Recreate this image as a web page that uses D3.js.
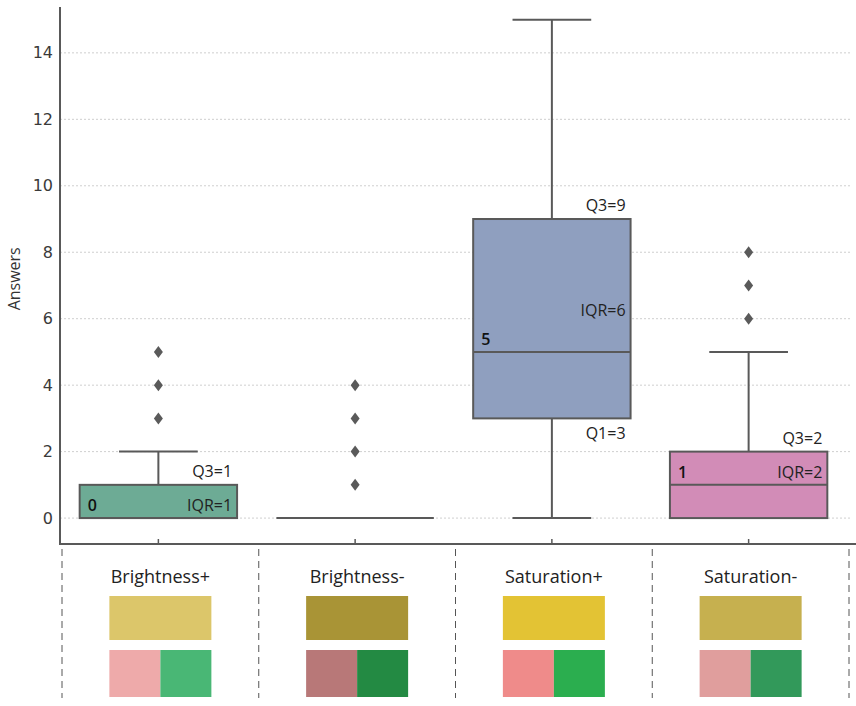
<!DOCTYPE html>
<html>
<head>
<meta charset="utf-8">
<script src="https://cdn.jsdelivr.net/npm/d3@7"></script>
<style>
  body { margin: 0; background: #fff; }
  text { font-family: "Open Sans", "Noto Sans", sans-serif; }
</style>
</head>
<body>
<div id="chart"></div>
<script>
const categories = ["Brightness+", "Brightness-", "Saturation+", "Saturation-"];
const q1 = [0, 0, 3, 0];
const median = [0, 0, 5, 1];
const q3 = [1, 0, 9, 2];
const whiskerLow = [0, 0, 0, 0];
const whiskerHigh = [2, 0, 15, 5];
const outliers = [[3, 4, 5], [1, 2, 3, 4], [], [6, 7, 8]];
const boxColors = ["#6dab95", "#6dab95", "#8f9fbf", "#d28cb7"];
const yTicks = [0, 2, 4, 6, 8, 10, 12, 14];

const swatchTop = ["#dcc66a", "#a99436", "#e3c334", "#c6b04f"];
const swatchLeft = ["#eeaaaa", "#b87878", "#ef8b8a", "#e09e9d"];
const swatchRight = ["#49b775", "#238a43", "#2bae4f", "#32995a"];

const W = 856, H = 706;
const pLeft = 60, pRight = 847, pTop = 7, pBottom = 544;

const svg = d3.select("#chart").append("svg")
  .attr("width", W).attr("height", H);

const x = d3.scaleBand().domain(categories).range([pLeft, pRight]).padding(0);
const y = d3.scaleLinear().domain([-0.78, 15.38]).range([pBottom, pTop]);

const stroke = "#595959";
const boxW = x.bandwidth() * 0.8;
const capW = boxW / 2;

// gridlines
svg.append("g").selectAll("line")
  .data(yTicks).enter().append("line")
  .attr("x1", pLeft).attr("x2", 850)
  .attr("y1", d => y(d)).attr("y2", d => y(d))
  .attr("stroke", "#cfcfcf").attr("stroke-width", 1)
  .attr("stroke-dasharray", "2,2");

// y axis
const yAxis = svg.append("g")
  .attr("transform", `translate(${pLeft},0)`)
  .call(d3.axisLeft(y).tickValues(yTicks).tickSize(0).tickPadding(7));
yAxis.select(".domain").remove();
yAxis.selectAll("text")
  .style("font-family", "DejaVu Sans, sans-serif")
  .style("font-size", "16px").attr("fill", "#3a3a3a");

svg.append("line")
  .attr("x1", pLeft).attr("x2", pLeft).attr("y1", pTop).attr("y2", pBottom)
  .attr("stroke", stroke).attr("stroke-width", 2);

// x axis, ticks point inward
const xAxis = svg.append("g")
  .attr("transform", `translate(0,${pBottom})`)
  .call(d3.axisBottom(x).tickSize(-5).tickFormat(""));
xAxis.select(".domain").remove();
xAxis.selectAll(".tick line").attr("stroke", stroke).attr("stroke-width", 1.5);
svg.append("line")
  .attr("x1", pLeft - 1).attr("x2", W).attr("y1", pBottom).attr("y2", pBottom)
  .attr("stroke", stroke).attr("stroke-width", 2);

svg.append("text")
  .attr("transform", `translate(20,${y(7.2)}) rotate(-90)`)
  .attr("text-anchor", "middle")
  .style("font-size", "16px").attr("fill", "#333")
  .text("Answers");

// boxes
categories.forEach((c, i) => {
  const cx = x(c) + x.bandwidth() / 2;
  const g = svg.append("g");

  // whiskers
  g.append("line")
    .attr("x1", cx).attr("x2", cx)
    .attr("y1", y(q3[i])).attr("y2", y(whiskerHigh[i]))
    .attr("stroke", stroke).attr("stroke-width", 2);
  g.append("line")
    .attr("x1", cx).attr("x2", cx)
    .attr("y1", y(q1[i])).attr("y2", y(whiskerLow[i]))
    .attr("stroke", stroke).attr("stroke-width", 2);
  [whiskerLow[i], whiskerHigh[i]].forEach(v => {
    g.append("line")
      .attr("x1", cx - capW / 2).attr("x2", cx + capW / 2)
      .attr("y1", y(v)).attr("y2", y(v))
      .attr("stroke", stroke).attr("stroke-width", 2);
  });

  if (q3[i] > q1[i]) {
    g.append("rect")
      .attr("x", cx - boxW / 2).attr("width", boxW)
      .attr("y", y(q3[i])).attr("height", y(q1[i]) - y(q3[i]))
      .attr("fill", boxColors[i])
      .attr("stroke", stroke).attr("stroke-width", 2);
  }
  g.append("line")
    .attr("x1", cx - boxW / 2).attr("x2", cx + boxW / 2)
    .attr("y1", y(median[i])).attr("y2", y(median[i]))
    .attr("stroke", stroke).attr("stroke-width", 2);

  // outliers
  g.selectAll("path.out")
    .data(outliers[i]).enter().append("path")
    .attr("d", "M0,-6L4.5,0L0,6L-4.5,0Z")
    .attr("transform", d => `translate(${cx},${y(d)})`)
    .attr("fill", "#5a5a5a");

  // annotations
  if (q3[i] > q1[i]) {
    const rx = cx + boxW / 2 - 5;
    const lx = cx - boxW / 2 + 8;
    const tall = y(q1[i]) - y(q3[i]) > 100;
    g.append("text")
      .attr("x", rx).attr("y", y(q3[i]) - 14)
      .attr("text-anchor", "end").attr("dominant-baseline", "central")
      .style("font-size", "16px").attr("fill", "#222")
      .text(`Q3=${q3[i]}`);
    g.append("text")
      .attr("x", rx)
      .attr("y", tall ? y((q1[i] + q3[i]) / 2) - 9 : y(median[i]) - 13)
      .attr("text-anchor", "end").attr("dominant-baseline", "central")
      .style("font-size", "16px").attr("fill", "#222")
      .text(`IQR=${q3[i] - q1[i]}`);
    g.append("text")
      .attr("x", lx).attr("y", y(median[i]) - 13)
      .attr("dominant-baseline", "central")
      .style("font-size", "16px").style("font-weight", "600").attr("fill", "#111")
      .text(median[i]);
    if (q1[i] > 0) {
      g.append("text")
        .attr("x", rx).attr("y", y(q1[i]) + 15)
        .attr("text-anchor", "end").attr("dominant-baseline", "central")
        .style("font-size", "16px").attr("fill", "#222")
        .text(`Q1=${q1[i]}`);
    }
  }
});

// lower panel: separators, labels, colour swatches
const seps = d3.range(categories.length + 1).map(k => pLeft + 2 + k * x.bandwidth());
svg.append("g").selectAll("line")
  .data(seps).enter().append("line")
  .attr("x1", d => d).attr("x2", d => d)
  .attr("y1", 549).attr("y2", 698)
  .attr("stroke", "#555").attr("stroke-width", 1)
  .attr("stroke-dasharray", "7,5");

const sw = 102;
categories.forEach((c, i) => {
  const cx = x(c) + x.bandwidth() / 2 + 2;
  svg.append("text")
    .attr("x", cx).attr("y", 576)
    .attr("text-anchor", "middle").attr("dominant-baseline", "central")
    .style("font-size", "18px").attr("fill", "#222")
    .text(c);
  svg.append("rect")
    .attr("x", cx - sw / 2).attr("y", 596).attr("width", sw).attr("height", 44)
    .attr("fill", swatchTop[i]);
  svg.append("rect")
    .attr("x", cx - sw / 2).attr("y", 650).attr("width", sw / 2).attr("height", 47)
    .attr("fill", swatchLeft[i]);
  svg.append("rect")
    .attr("x", cx).attr("y", 650).attr("width", sw / 2).attr("height", 47)
    .attr("fill", swatchRight[i]);
});
</script>
</body>
</html>
